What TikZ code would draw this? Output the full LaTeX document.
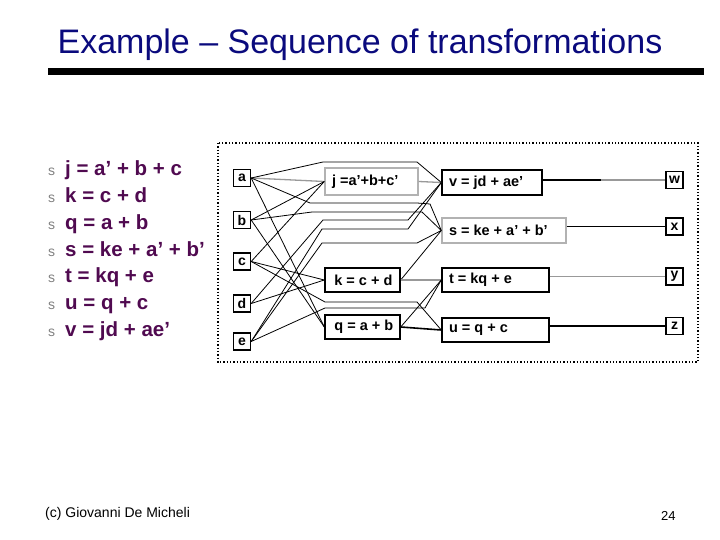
\documentclass[tikz,border=0pt]{standalone}
\usepackage{fontspec}
\setmainfont{Liberation Sans}
\definecolor{ttl}{RGB}{10,10,125}
\definecolor{purp}{RGB}{80,10,80}
\newcommand{\lbox}[2]{\makebox[#1][l]{#2}}
\begin{document}
\begin{tikzpicture}[x=1pt,y=-1pt,
  lbl/.style={draw,line width=1.4pt,minimum width=17pt,minimum height=17pt,inner sep=0pt,font=\bfseries\fontsize{14}{14}\selectfont},
  eqbox/.style={draw,line width=1.4pt,inner xsep=7pt,inner ysep=0pt,font=\bfseries\fontsize{14.5}{14.5}\selectfont},
  graybox/.style={draw=gray!60},
  wire/.style={line width=0.8pt},
  gwire/.style={line width=1.3pt,draw=gray!80},
  bwire/.style={line width=1.6pt},
  item/.style={anchor=base west,text=purp,font=\bfseries\fontsize{20.5}{20.5}\selectfont,inner sep=0pt},
  bul/.style={anchor=base west,text=gray,font=\fontsize{14}{14}\selectfont,inner sep=0pt}
]
\useasboundingbox (0,0) rectangle (720,540);

% title
\node[text=ttl,font=\fontsize{34}{34}\selectfont,inner sep=0pt] (title) at (360,45) {Example – Sequence of transformations};
\fill (48,68) rectangle (704,75);

% bullet list
\foreach \yy/\txt [count=\i] in {176/{j = a’ + b + c},202.7/{k = c + d},229.3/{q = a + b},256/{s = ke + a’ + b’},282.7/{t = kq + e},309.3/{u = q + c},336/{v = jd + ae’}}{
  \node[bul] (bul\i) at (48,\yy) {s};
  \node[item] (item\i) at (65,\yy) {\txt};
}

% footer
\node[anchor=base west,font=\fontsize{14}{14}\selectfont,inner sep=0pt] (foot) at (45,517) {(c) Giovanni De Micheli};
\node[anchor=base west,font=\fontsize{13}{13}\selectfont,inner sep=0pt] (pnum) at (661,520) {24};

% frame
\draw[dotted,line width=1.3pt] (218,143) rectangle (698,362);

% inputs
\node[lbl] (a) at (242,178) {a};
\node[lbl] (b) at (242,220) {b};
\node[lbl] (c) at (242,261.5) {c};
\node[lbl] (d) at (242,303.5) {d};
\node[lbl] (e) at (242,341.5) {e};

% outputs
\node[lbl] (w) at (674.5,180) {w};
\node[lbl] (x) at (674.5,226.5) {x};
\node[lbl] (y) at (674.5,276.5) {y};
\node[lbl] (z) at (674.5,326) {z};

% equation boxes
\node[eqbox,graybox,minimum height=27pt] (j) at (371.5,181.5) {\lbox{79pt}{j =a’+b+c’}};
\node[eqbox,minimum height=24pt] (k) at (362.5,280) {\lbox{61pt}{\,k = c + d}};
\node[eqbox,minimum height=24pt] (q) at (362.5,327) {\lbox{61pt}{\,q = a + b}};
\node[eqbox,minimum height=25pt] (v) at (492,182.5) {\lbox{86pt}{v = jd + ae’}};
\node[eqbox,graybox,minimum height=25pt] (s) at (504,230.5) {\lbox{110pt}{s = ke + a’ + b’}};
\node[eqbox,minimum height=24pt] (t) at (495.5,280) {\lbox{93pt}{t = kq + e}};
\node[eqbox,minimum height=24pt] (u) at (495.5,330) {\lbox{93pt}{u = q + c}};

% wires into j
\draw[gwire] (a.east) -- (j.west);
\draw[wire] (b.east) -- (j.west);
\draw[wire] (c.east) -- (j.west);
% wires into k
\draw[wire] (c.east) -- (k.west);
\draw[wire] (d.east) -- (k.west);
% wires into q
\draw[wire] (a.east) -- (q.west);
\draw[wire] (b.east) -- (q.west);
% wires into v
\draw[gwire] (j.east) -- (v.west);
\draw[wire] (a.east) -- (323,162) -- (417,162) -- (v.west);
\draw[wire] (d.east) -- (323,220) -- (408,220) -- (v.west);
\draw[wire] (e.east) -- (322,229) -- (408,229) -- (v.west);
% wires into s
\draw[wire] (a.east) -- (310,203) -- (417,203) -- (430,204) -- (s.west);
\draw[wire] (b.east) -- (312,212) -- (422,212) -- (s.west);
\draw[wire] (e.east) -- (322,243) -- (417,243) -- (s.west);
\draw[wire] (k.east) -- (s.west);
% wires into t
\draw[gwire] (k.east) -- (t.west);
\draw[wire] (q.east) -- (t.west);
\draw[wire] (e.east) -- (325,308) -- (425,308) -- (t.west);
% wires into u
\draw[bwire] (q.east) -- (u.west);
\draw[wire] (c.east) -- (325,302) -- (417,302) -- (u.west);

% outputs
\draw[bwire] (v.east |- w.west) -- ++(58,0) coordinate (vw);
\draw[gwire] (vw) -- (w.west);
\draw[wire] (s.east |- x.west) -- ++(67,0) coordinate (sx);
\draw[bwire] (sx) -- (x.west);
\draw[gwire] (t.east |- y.west) -- (y.west);
\draw[bwire] (u.east |- z.west) -- (z.west);
\end{tikzpicture}
\end{document}
